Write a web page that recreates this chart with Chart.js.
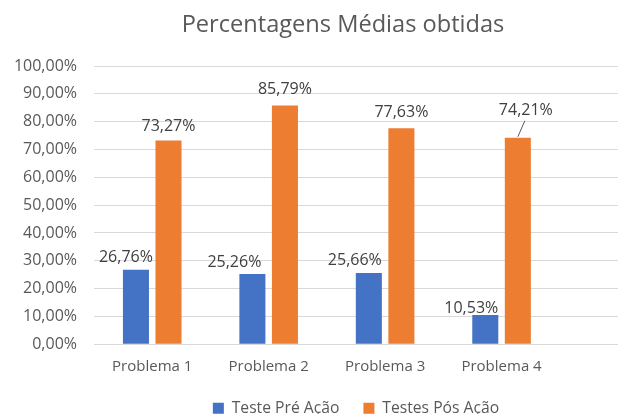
<!DOCTYPE html>
<html>
<head>
<meta charset="utf-8">
<script src="https://cdn.jsdelivr.net/npm/chart.js@4/dist/chart.umd.min.js"></script>
<style>
  html, body { margin: 0; padding: 0; background: #ffffff; }
  #wrap { width: 619px; height: 414px; }
</style>
</head>
<body>
<div id="wrap"><canvas id="c" width="619" height="414"></canvas></div>
<script>
// ---- data ----
const chartTitle = 'Percentagens Médias obtidas';
const categories = ['Problema 1', 'Problema 2', 'Problema 3', 'Problema 4'];
const seriesNames = ['Teste Pré Ação', 'Testes Pós Ação'];
const preValues = [26.76, 25.26, 25.66, 10.53];
const posValues = [73.27, 85.79, 77.63, 74.21];
const yTickValues = [0, 10, 20, 30, 40, 50, 60, 70, 80, 90, 100];

// ---- style ----
const FONT = "'Open Sans', 'Noto Sans', sans-serif";
const BLUE = '#4472C4';
const ORANGE = '#ED7D31';
const fmt = v => v.toFixed(2).replace('.', ',') + '%';

// manual label nudges (px), like Excel's hand-placed data labels
const labelNudge = [
  { dx: [-10, -18, -14, -14], dy: [2.5, 3.5, 2.5, 8], leader: [false, false, false, false] },
  { dx: [0, 0, 0, 8], dy: [1, -1, -0.5, -12], leader: [false, false, false, true] }
];

const catIndex = categories.map((_, i) => i + 1);
const toPoints = vals => vals.map((v, i) => ({ x: catIndex[i], y: v }));

const titlePlugin = {
  id: 'excelTitle',
  afterDraw(chart) {
    const { ctx, chartArea } = chart;
    ctx.save();
    ctx.font = "23.6px " + FONT;
    ctx.fillStyle = '#595959';
    ctx.textAlign = 'center';
    ctx.textBaseline = 'middle';
    ctx.fillText(chartTitle, (chartArea.left + chartArea.right) / 2 - 13, 25);
    ctx.restore();
  }
};

const labelPlugin = {
  id: 'barLabels',
  afterDatasetsDraw(chart) {
    const ctx = chart.ctx;
    ctx.save();
    ctx.font = "16px " + FONT;
    ctx.fillStyle = '#404040';
    ctx.textAlign = 'center';
    ctx.textBaseline = 'middle';
    chart.data.datasets.forEach((ds, di) => {
      const meta = chart.getDatasetMeta(di);
      meta.data.forEach((el, i) => {
        const n = labelNudge[di];
        const cx = el.x + n.dx[i];
        const cy = el.y - 15 + n.dy[i];
        ctx.fillText(fmt(ds.data[i].y), cx, cy);
        if (n.leader[i]) {
          ctx.strokeStyle = '#595959';
          ctx.lineWidth = 1;
          ctx.beginPath();
          ctx.moveTo(cx - 1, cy + 10);
          ctx.lineTo(el.x, el.y - 1);
          ctx.stroke();
        }
      });
    });
    ctx.restore();
  }
};

new Chart(document.getElementById('c'), {
  type: 'bar',
  data: {
    datasets: [
      { label: seriesNames[0], data: toPoints(preValues), backgroundColor: BLUE, borderWidth: 0 },
      { label: seriesNames[1], data: toPoints(posValues), backgroundColor: ORANGE, borderWidth: 0 }
    ]
  },
  options: {
    responsive: false,
    animation: false,
    devicePixelRatio: 1,
    categoryPercentage: 0.559,
    barPercentage: 0.8,
    layout: { padding: { top: 66, right: 1, left: 0, bottom: -12 } },
    scales: {
      x: {
        type: 'linear',
        offset: false,
        min: 0.5,
        max: 5.0,
        afterBuildTicks(scale) { scale.ticks = catIndex.map(v => ({ value: v })); },
        afterFit(scale) { scale.height = 32; },
        grid: { display: false, drawTicks: false, offset: false },
        border: { display: false },
        ticks: {
          padding: 13,
          color: '#595959',
          font: { family: FONT, size: 15 },
          callback: v => categories[v - 1],
          maxRotation: 0,
          autoSkip: false
        }
      },
      y: {
        min: 0,
        max: 100,
        afterBuildTicks(scale) { scale.ticks = yTickValues.map(v => ({ value: v })); },
        afterFit(scale) { scale.width = 94; },
        grid: { color: '#D9D9D9', lineWidth: 1, drawTicks: false },
        border: { display: false },
        ticks: {
          padding: 17,
          color: '#595959',
          font: { family: FONT, size: 16 },
          callback: v => fmt(v)
        }
      }
    },
    plugins: {
      title: { display: false },
      tooltip: { enabled: false },
      legend: {
        display: true,
        position: 'bottom',
        fullSize: false,
        labels: {
          boxWidth: 11,
          boxHeight: 11,
          padding: 24,
          color: '#595959',
          font: { family: FONT, size: 15.7 }
        }
      }
    }
  },
  plugins: [titlePlugin, labelPlugin]
});
</script>
</body>
</html>
